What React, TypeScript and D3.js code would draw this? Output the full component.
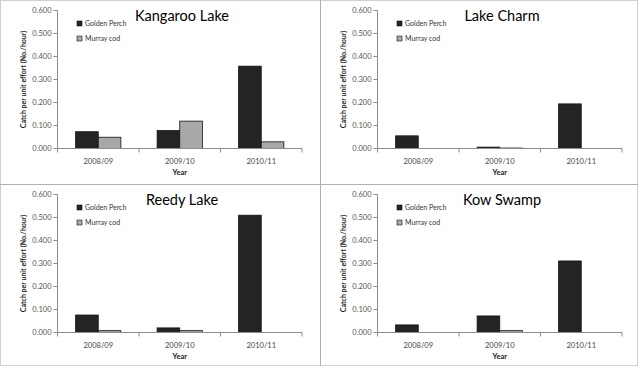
import React from 'react';
import * as d3 from 'd3';

const years = ['2008/09', '2009/10', '2010/11'];
const lakes = ['Kangaroo Lake', 'Lake Charm', 'Reedy Lake', 'Kow Swamp'];
const seriesNames = ['Golden Perch', 'Murray cod'];
// one row per lake, one value per year
const goldenPerch = [
  [0.073, 0.078, 0.358],
  [0.055, 0.006, 0.194],
  [0.076, 0.02, 0.51],
  [0.033, 0.072, 0.311],
];
const murrayCod = [
  [0.049, 0.119, 0.029],
  [0, 0.002, 0],
  [0.008, 0.008, 0],
  [0, 0.008, 0],
];
const yTicks = [0, 0.1, 0.2, 0.3, 0.4, 0.5, 0.6];

const W = 640;
const H = 368;
const PW = 320;
const PH = 184;
const font = 'Lato, "Open Sans", sans-serif';
const colors = ['#242424', '#a8a8a8'];

const Panel = ({ idx }: { idx: number }) => {
  const ox = (idx % 2) * PW;
  const oy = Math.floor(idx / 2) * PH;
  const left = 57.5;
  const right = 302;
  const top = 10.5;
  const bottom = 148.5;

  const y = d3.scaleLinear().domain([0, 0.6]).range([bottom, top]);
  const x0 = d3.scaleBand<string>().domain(years).range([left, right]);
  const x1 = d3.scaleBand<string>().domain(seriesNames).range([0, x0.bandwidth()]).paddingOuter(0.8);
  const vals = [goldenPerch[idx], murrayCod[idx]];

  return (
    <g transform={`translate(${ox},${oy})`}>
      {/* bars */}
      {years.map((yr, i) => (
        <g key={yr}>
          {seriesNames.map((s, j) => {
            const v = vals[j][i];
            if (v <= 0) return null;
            return (
              <rect
                key={s}
                x={x0(yr)! + x1(s)!}
                y={y(v)}
                width={x1.bandwidth()}
                height={bottom - y(v)}
                fill={colors[j]}
                stroke="#111"
                strokeWidth={0.8}
              />
            );
          })}
        </g>
      ))}
      {/* y axis */}
      <line x1={left} x2={left} y1={top} y2={bottom} stroke="#8c8c8c" />
      {yTicks.map((t) => (
        <g key={t}>
          <line x1={left - 4} x2={left} y1={y(t)} y2={y(t)} stroke="#8c8c8c" />
          <text x={left - 6} y={y(t) + 2.5} fontSize={7.5} textAnchor="end" fill="#555" fontFamily={font}>
            {t.toFixed(3)}
          </text>
        </g>
      ))}
      {/* x axis */}
      <line x1={left} x2={right} y1={bottom} y2={bottom} stroke="#8c8c8c" />
      {years.map((yr, i) => (
        <g key={yr}>
          <line x1={x0(yr)! + x0.bandwidth()} x2={x0(yr)! + x0.bandwidth()} y1={bottom} y2={bottom + 4} stroke="#8c8c8c" />
          {i === 0 && <line x1={left} x2={left} y1={bottom} y2={bottom + 4} stroke="#8c8c8c" />}
          <text x={x0(yr)! + x0.bandwidth() / 2} y={bottom + 15} fontSize={7.5} textAnchor="middle" fill="#444" fontFamily={font}>
            {yr}
          </text>
        </g>
      ))}
      {/* axis titles */}
      <text x={(left + right) / 2} y={175} fontSize={7.5} fontWeight="bold" textAnchor="middle" fill="#222" fontFamily={font}>
        Year
      </text>
      <text
        transform={`translate(26,${(top + bottom) / 2}) rotate(-90)`}
        fontSize={7}
        fontWeight="bold"
        textAnchor="middle"
        fill="#222"
        fontFamily={font}
      >
        Catch per unit effort (No./hour)
      </text>
      {/* title */}
      <text x={182} y={21} fontSize={14.5} textAnchor="middle" fill="#000" fontFamily={font}>
        {lakes[idx]}
      </text>
      {/* legend */}
      {seriesNames.map((s, j) => (
        <g key={s} transform={`translate(77,${21 + j * 15})`}>
          <rect x={0} y={0} width={5} height={5} fill={colors[j]} stroke="#111" strokeWidth={0.6} />
          <text x={8} y={5} fontSize={7} fill="#333" fontFamily={font}>
            {s}
          </text>
        </g>
      ))}
    </g>
  );
};

export default function App() {
  return (
    <svg width={W} height={H} style={{ position: 'absolute', left: 0, top: 0, background: '#fff' }}>
      <rect x={0.5} y={0.5} width={W - 3} height={H - 3} fill="#fff" stroke="#d0d0d0" />
      {lakes.map((l, i) => (
        <Panel key={l} idx={i} />
      ))}
      <line x1={320.5} x2={320.5} y1={0} y2={H - 2} stroke="#b0b0b0" />
      <line x1={0} x2={W - 2} y1={184.5} y2={184.5} stroke="#b0b0b0" />
    </svg>
  );
}
